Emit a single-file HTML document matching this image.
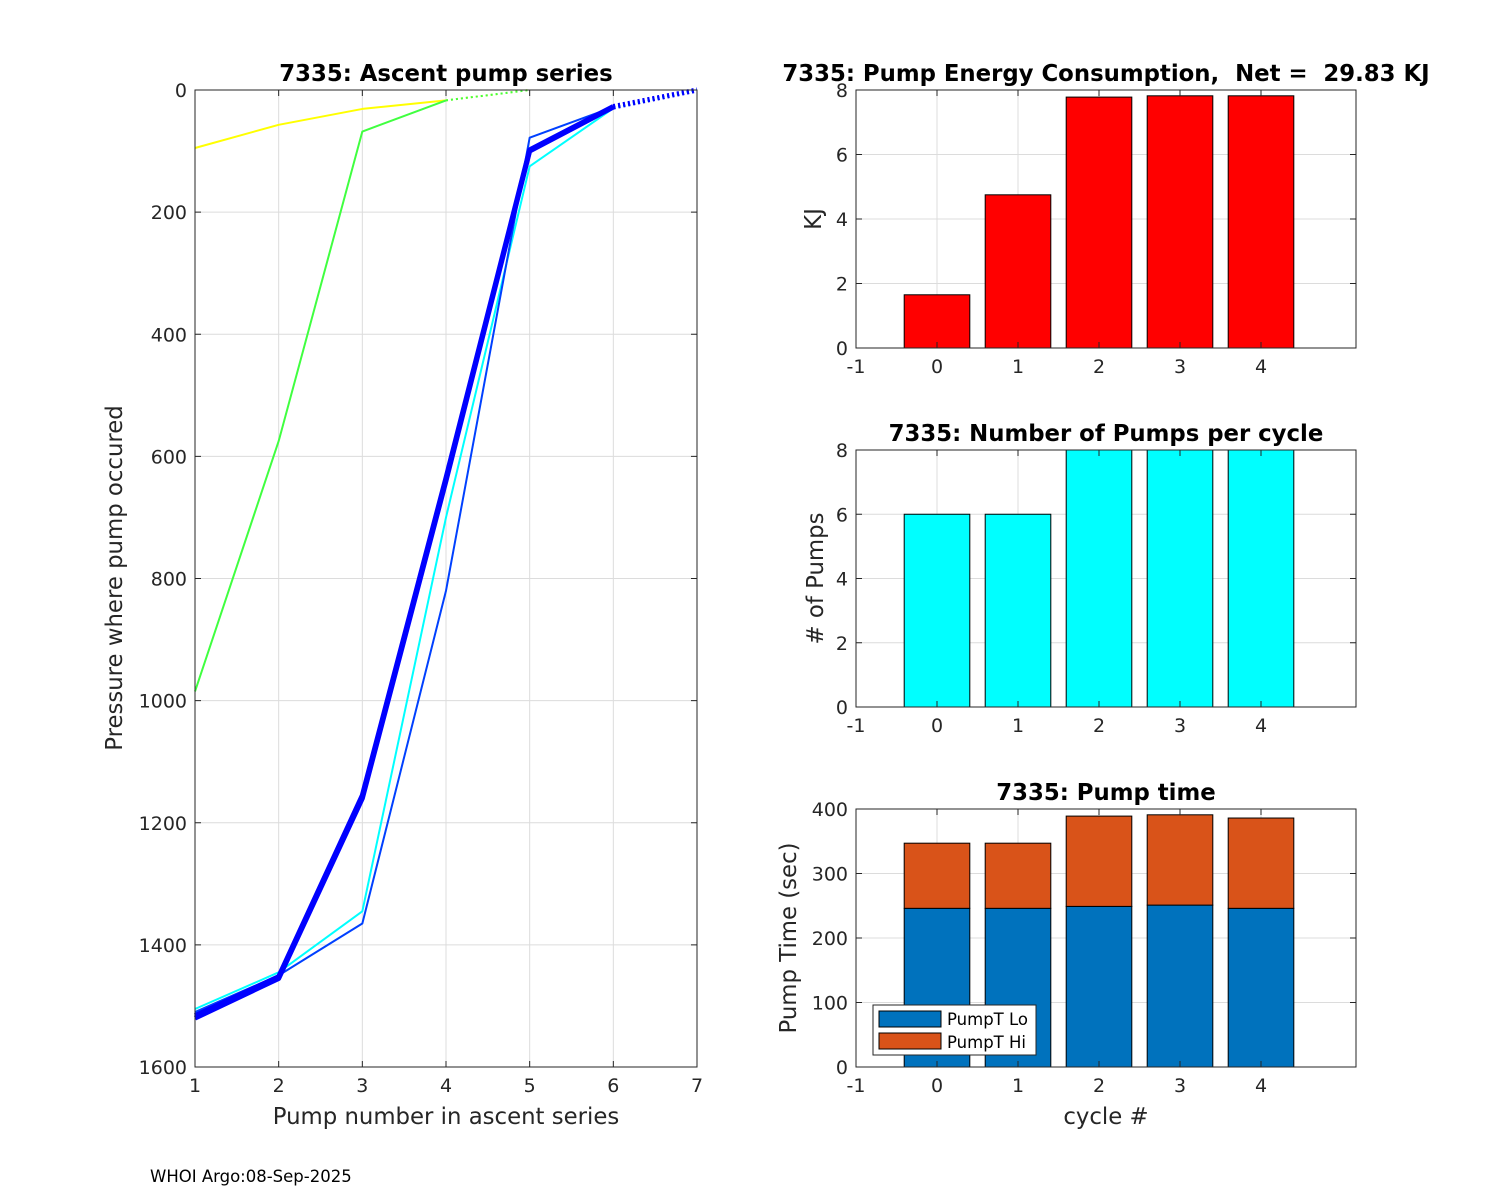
<!DOCTYPE html>
<html><head><meta charset="utf-8"><style>
body{margin:0;background:#fff}
svg{display:block;font-family:"DejaVu Sans","Liberation Sans",sans-serif}
text{white-space:pre}
</style></head><body>
<svg id="c" width="1500" height="1200" viewBox="0 0 1500 1200" xmlns="http://www.w3.org/2000/svg"></svg>
<script>
// Left chart data (pressure at pump index)
const pumpIdx = [1,2,3,4,5,6,7];
const sYellow = [95,57,31,17,0];
const sGreen = [985,575,68,17,0];
const sCyan = [1505,1445,1345,700,125,30,0];
const sBlueMid = [1510,1450,1365,820,78,28,0];
const sBlueA = [1520,1455,1160,640,100,28,0];
const sBlueB = [1516,1452,1155,635,98,27,0];
// Right charts
const cycles = [0,1,2,3,4];
const energy = [1.65,4.75,7.78,7.82,7.82];
const pumps = [6,6,8,8,8];
const pumpLo = [246,246,249,251,246];
const pumpHi = [101,101,140,140,140];
const yTicksP = [0,200,400,600,800,1000,1200,1400,1600];
const xTicksL = [1,2,3,4,5,6,7];
const xTicksR = [-1,0,1,2,3,4];

const NS="http://www.w3.org/2000/svg";
const svg=document.getElementById('c');
function el(tag,attrs,parent,name,inter){
  const e=document.createElementNS(NS,tag);
  for(const k in attrs)e.setAttribute(k,attrs[k]);
  
  
  (parent||svg).appendChild(e);return e;
}
function txt(x,y,s,o,name){
  const t=el('text',Object.assign({x:x,y:y,'font-size':19,fill:'#262626'},o||{}),svg,name);
  t.textContent=s;return t;
}

// ---- Left axes
const L={x0:195,x1:697,y0:90,y1:1067};
const lx=v=>L.x0+(v-1)/6*(L.x1-L.x0);
const ly=v=>L.y0+v/1600*(L.y1-L.y0);
xTicksL.forEach(v=>{
  el('line',{x1:lx(v),x2:lx(v),y1:L.y0,y2:L.y1,stroke:'#dcdcdc','stroke-width':1},svg,'x-gridline');
  el('line',{x1:lx(v),x2:lx(v),y1:L.y1,y2:L.y1-6,stroke:'#262626'},svg,'x-tick');
  el('line',{x1:lx(v),x2:lx(v),y1:L.y0,y2:L.y0+6,stroke:'#262626'},svg,'x-tick');
  txt(lx(v),L.y1+25,String(v),{'text-anchor':'middle'},'x-tick-label');
});
yTicksP.forEach(v=>{
  el('line',{x1:L.x0,x2:L.x1,y1:ly(v),y2:ly(v),stroke:'#dcdcdc','stroke-width':1},svg,'y-gridline');
  el('line',{x1:L.x0,x2:L.x0+6,y1:ly(v),y2:ly(v),stroke:'#262626'},svg,'y-tick');
  el('line',{x1:L.x1,x2:L.x1-6,y1:ly(v),y2:ly(v),stroke:'#262626'},svg,'y-tick');
  txt(L.x0-8,ly(v)+7,String(v),{'text-anchor':'end'},'y-tick-label');
});
function series(vals,color,w,name){
  const n=vals.length;
  const solid=vals.slice(0,n-1).map((v,i)=>lx(pumpIdx[i])+','+ly(v)).join(' ');
  el('polyline',{points:solid,fill:'none',stroke:color,'stroke-width':w,'stroke-linejoin':'round'},svg,name);
  el('line',{x1:lx(pumpIdx[n-2]),y1:ly(vals[n-2]),x2:lx(pumpIdx[n-1]),y2:ly(vals[n-1]),stroke:color,'stroke-width':w,'stroke-dasharray':'2,3'},svg,name+'-dotted');
}
series(sYellow,'#ffff00',2,'series-cycle-0');
series(sGreen,'#40ff40',2,'series-cycle-1');
series(sCyan,'#00ffff',2,'series-cycle-2');
series(sBlueMid,'#0040ff',2,'series-cycle-3');
series(sBlueA,'#0000ff',5,'series-cycle-4');
series(sBlueB,'#0000ff',5,'series-cycle-5');
el('rect',{x:L.x0,y:L.y0,width:L.x1-L.x0,height:L.y1-L.y0,fill:'none',stroke:'#262626'},svg,'left-axes-box');
txt((L.x0+L.x1)/2,81,'7335: Ascent pump series',{'text-anchor':'middle','font-weight':'bold','font-size':22.8,fill:'#000'},'left-title');
txt((L.x0+L.x1)/2,1124,'Pump number in ascent series',{'text-anchor':'middle','font-size':22.8},'left-x-label');
txt(0,0,'Pressure where pump occured',{'text-anchor':'middle','font-size':22.8,transform:'translate(122,578) rotate(-90)'},'left-y-label');

// ---- Right axes
const R={x0:856,x1:1356};
const U=81;
const rx=v=>R.x0+(v+1)*U;
const bw=0.81*U;
function barPanel(y0,y1,ymax,yticks,title,ylabel,prefix,lblx){
  const ry=v=>y1-v/ymax*(y1-y0);
  xTicksR.forEach(v=>{
    el('line',{x1:rx(v),x2:rx(v),y1:y0,y2:y1,stroke:'#dcdcdc'},svg,prefix+'-x-gridline');
  });
  yticks.forEach(v=>{
    el('line',{x1:R.x0,x2:R.x1,y1:ry(v),y2:ry(v),stroke:'#dcdcdc'},svg,prefix+'-y-gridline');
    txt(R.x0-8,ry(v)+7,String(v),{'text-anchor':'end'},prefix+'-y-tick-label');
  });
  xTicksR.forEach(v=>txt(rx(v),y1+25,String(v),{'text-anchor':'middle'},prefix+'-x-tick-label'));
  txt((R.x0+R.x1)/2+(prefix==='energy'?(1106-(R.x0+R.x1)/2):0),y0-9,title,{'text-anchor':'middle','font-weight':'bold','font-size':22.8,fill:'#000'},prefix+'-title');
  txt(0,0,ylabel,{'text-anchor':'middle','font-size':22.8,transform:'translate('+lblx+','+((y0+y1)/2)+') rotate(-90)'},prefix+'-y-label');
  return ry;
}
function finishPanel(y0,y1,ymax,yticks,prefix){
  const ry=v=>y1-v/ymax*(y1-y0);
  xTicksR.forEach(v=>{
    el('line',{x1:rx(v),x2:rx(v),y1:y1,y2:y1-6,stroke:'#262626'},svg,prefix+'-x-tick');
    el('line',{x1:rx(v),x2:rx(v),y1:y0,y2:y0+6,stroke:'#262626'},svg,prefix+'-x-tick');
  });
  yticks.forEach(v=>{
    el('line',{x1:R.x0,x2:R.x0+6,y1:ry(v),y2:ry(v),stroke:'#262626'},svg,prefix+'-y-tick');
    el('line',{x1:R.x1,x2:R.x1-6,y1:ry(v),y2:ry(v),stroke:'#262626'},svg,prefix+'-y-tick');
  });
  el('rect',{x:R.x0,y:y0,width:R.x1-R.x0,height:y1-y0,fill:'none',stroke:'#262626'},svg,prefix+'-axes-box');
}
// Energy
let ry=barPanel(90,348,8,[0,2,4,6,8],'7335: Pump Energy Consumption,  Net =  29.83 KJ','KJ','energy',821);
cycles.forEach((c,i)=>{
  el('rect',{x:rx(c)-bw/2,y:ry(energy[i]),width:bw,height:ry(0)-ry(energy[i]),fill:'#ff0000',stroke:'#000','stroke-width':1},svg,'energy-bar-'+c);
});
finishPanel(90,348,8,[0,2,4,6,8],'energy');
// Pumps
ry=barPanel(450,707,8,[0,2,4,6,8],'7335: Number of Pumps per cycle','# of Pumps','pumps',823);
cycles.forEach((c,i)=>{
  el('rect',{x:rx(c)-bw/2,y:ry(pumps[i]),width:bw,height:ry(0)-ry(pumps[i]),fill:'#00ffff',stroke:'#000','stroke-width':1},svg,'pumps-bar-'+c);
});
finishPanel(450,707,8,[0,2,4,6,8],'pumps');
// Pump time
ry=barPanel(809,1067,400,[0,100,200,300,400],'7335: Pump time','Pump Time (sec)','ptime',796);
cycles.forEach((c,i)=>{
  el('rect',{x:rx(c)-bw/2,y:ry(pumpLo[i]),width:bw,height:ry(0)-ry(pumpLo[i]),fill:'#0072bd',stroke:'#000','stroke-width':1},svg,'pumpt-lo-bar-'+c);
  el('rect',{x:rx(c)-bw/2,y:ry(pumpLo[i]+pumpHi[i]),width:bw,height:ry(pumpLo[i])-ry(pumpLo[i]+pumpHi[i]),fill:'#d95319',stroke:'#000','stroke-width':1},svg,'pumpt-hi-bar-'+c);
});
finishPanel(809,1067,400,[0,100,200,300,400],'ptime');
txt(1106,1124,'cycle #',{'text-anchor':'middle','font-size':22.8},'right-x-label');
// legend
const lg=el('g',{},svg,'legend');
el('rect',{x:873,y:1005,width:163,height:50,fill:'#fff',stroke:'#262626'},lg,'legend-box');
el('rect',{x:879,y:1011,width:62,height:16,fill:'#0072bd',stroke:'#000'},lg,'legend-swatch-lo');
el('rect',{x:879,y:1033,width:62,height:16,fill:'#d95319',stroke:'#000'},lg,'legend-swatch-hi');
let t=el('text',{x:947,y:1025,'font-size':16.5,fill:'#000'},lg,'legend-entry-lo');t.textContent='PumpT Lo';
t=el('text',{x:947,y:1048,'font-size':16.5,fill:'#000'},lg,'legend-entry-hi');t.textContent='PumpT Hi';
txt(150,1182,'WHOI Argo:08-Sep-2025',{'font-size':16.5,fill:'#000'},'footer-note');
</script>
</body></html>
